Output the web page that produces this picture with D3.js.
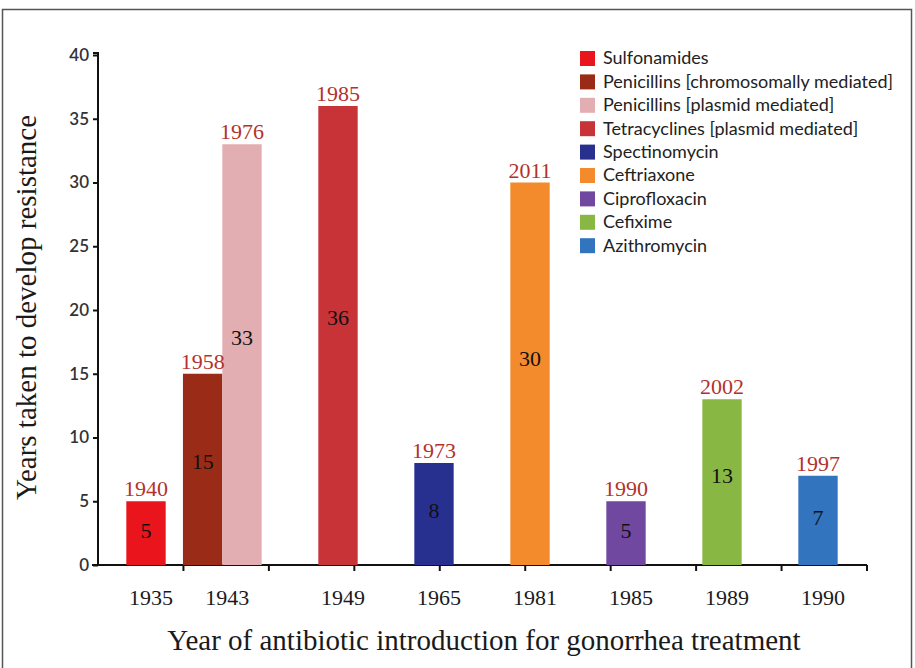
<!DOCTYPE html>
<html>
<head>
<meta charset="utf-8">
<script src="https://cdn.jsdelivr.net/npm/d3@7"></script>
<style>
  html, body { margin: 0; padding: 0; background: #ffffff; }
  svg { display: block; }
</style>
</head>
<body>
<svg id="chart" width="915" height="668"></svg>
<script>
// Antibiotics used for gonorrhea and how long resistance took to emerge
const drugs = [
  "Sulfonamides",
  "Penicillins [chromosomally mediated]",
  "Penicillins [plasmid mediated]",
  "Tetracyclines [plasmid mediated]",
  "Spectinomycin",
  "Ceftriaxone",
  "Ciprofloxacin",
  "Cefixime",
  "Azithromycin"
];
const introYears = ["1935", "1943", "1943", "1949", "1965", "1981", "1985", "1989", "1990"];
const yearsToResistance = [5, 15, 33, 36, 8, 30, 5, 13, 7];
const resistanceYears = ["1940", "1958", "1976", "1985", "1973", "2011", "1990", "2002", "1997"];
const categories = ["1935", "1943", "1949", "1965", "1981", "1985", "1989", "1990"];
const yTicks = [0, 5, 10, 15, 20, 25, 30, 35, 40];
const drugColors = ["#e9141c", "#9a2b16", "#e3aeb1", "#c83338", "#27308f", "#f38a2b", "#7048a0", "#89b743", "#3374bf"];

const svg = d3.select("#chart");
const plotLeft = 98, plotRight = 866, plotTop = 55, plotBottom = 565;

// outer frame
svg.append("rect")
  .attr("x", 2.5).attr("y", 9.5)
  .attr("width", 909).attr("height", 670)
  .attr("fill", "none").attr("stroke", "#555").attr("stroke-width", 1.5);

const y = d3.scaleLinear().domain([0, 40]).range([plotBottom, plotTop]);
const x = d3.scaleBand().domain(categories).range([plotLeft, plotRight])
  .paddingInner(0.59).paddingOuter(0.295);
const bw = x.bandwidth();

// bars: within a shared introduction year, the last bar sits in the band and earlier ones to its left
const rows = drugs.map((name, i) => {
  const same = introYears.map((c, k) => k).filter(k => introYears[k] === introYears[i]);
  const pos = same.indexOf(i);
  const shift = pos - (same.length - 1);
  return {
    name, cat: introYears[i], years: yearsToResistance[i], res: resistanceYears[i],
    color: drugColors[i], x0: x(introYears[i]) + shift * bw
  };
});

// x axis tick marks on an even grid along the baseline
const tickGrid = d3.scaleLinear().domain([0, 9]).range([plotLeft, plotRight + 1]);
const xAxisG = svg.append("g");
xAxisG.append("line")
  .attr("x1", plotLeft - 6).attr("x2", plotRight + 1)
  .attr("y1", plotBottom).attr("y2", plotBottom)
  .attr("stroke", "#111").attr("stroke-width", 2);
xAxisG.selectAll("line.tk").data(d3.range(1, 10)).join("line")
  .attr("class", "tk")
  .attr("x1", d => tickGrid(d)).attr("x2", d => tickGrid(d))
  .attr("y1", plotBottom).attr("y2", plotBottom + 6)
  .attr("stroke", "#111").attr("stroke-width", 2);

// category labels under each group
svg.append("g").selectAll("text").data(categories).join("text")
  .attr("x", c => {
    const xs = rows.filter(r => r.cat === c).map(r => r.x0 + bw / 2);
    return d3.mean(xs) + 5;
  })
  .attr("y", 605)
  .attr("text-anchor", "middle")
  .attr("font-family", "'Liberation Serif', 'Times New Roman', serif")
  .attr("font-size", 22)
  .attr("fill", "#1a1a1a")
  .text(c => c);

// y axis
const yAxis = d3.axisLeft(y).tickValues(yTicks).tickSize(5).tickPadding(4);
const yG = svg.append("g").attr("transform", `translate(${plotLeft},0)`).call(yAxis);
yG.select(".domain").attr("stroke", "#111").attr("stroke-width", 2)
  .attr("d", `M-5,${plotTop - 2}H0V${plotBottom}`);
yG.selectAll(".tick line").attr("stroke", "#111").attr("stroke-width", 2);
yG.selectAll(".tick text")
  .attr("font-family", "Lato, 'Open Sans', sans-serif")
  .attr("font-weight", 600)
  .attr("font-size", 17)
  .attr("fill", "#333");

// bars
svg.append("g").selectAll("rect").data(rows).join("rect")
  .attr("x", d => d.x0)
  .attr("y", d => y(d.years))
  .attr("width", bw)
  .attr("height", d => y(0) - y(d.years))
  .attr("fill", d => d.color);

// year resistance emerged, above each bar
svg.append("g").selectAll("text").data(rows).join("text")
  .attr("x", d => d.x0 + bw / 2)
  .attr("y", d => y(d.years) - 5)
  .attr("text-anchor", "middle")
  .attr("font-family", "'Liberation Serif', 'Times New Roman', serif")
  .attr("font-size", 22)
  .attr("fill", "#b3322c")
  .text(d => d.res);

// years taken, inside each bar
svg.append("g").selectAll("text").data(rows).join("text")
  .attr("x", d => d.x0 + bw / 2)
  .attr("y", d => y(d.years * 0.54))
  .attr("dy", "0.35em")
  .attr("text-anchor", "middle")
  .attr("font-family", "'Liberation Serif', 'Times New Roman', serif")
  .attr("font-size", 22)
  .attr("fill", "#111")
  .text(d => d.years);

// axis titles
svg.append("text")
  .attr("transform", `translate(36,${(113 + 502) / 2}) rotate(-90)`)
  .attr("text-anchor", "middle")
  .attr("font-family", "'Liberation Serif', 'Times New Roman', serif")
  .attr("font-size", 29)
  .attr("fill", "#1a1a1a")
  .text("Years taken to develop resistance");

svg.append("text")
  .attr("x", 484).attr("y", 650)
  .attr("text-anchor", "middle")
  .attr("font-family", "'Liberation Serif', 'Times New Roman', serif")
  .attr("font-size", 29)
  .attr("fill", "#1a1a1a")
  .text("Year of antibiotic introduction for gonorrhea treatment");

// legend
const lg = svg.append("g").attr("transform", "translate(580,58)");
const item = lg.selectAll("g").data(drugs).join("g")
  .attr("transform", (d, i) => `translate(0,${i * 23.4})`);
item.append("rect")
  .attr("x", 0).attr("y", -7).attr("width", 15).attr("height", 15)
  .attr("fill", (d, i) => drugColors[i]);
item.append("text")
  .attr("x", 23).attr("y", 0).attr("dy", "0.35em")
  .attr("font-family", "Lato, 'Open Sans', sans-serif")
  .attr("font-size", 18)
  .attr("fill", "#222")
  .text(d => d);
</script>
</body>
</html>
